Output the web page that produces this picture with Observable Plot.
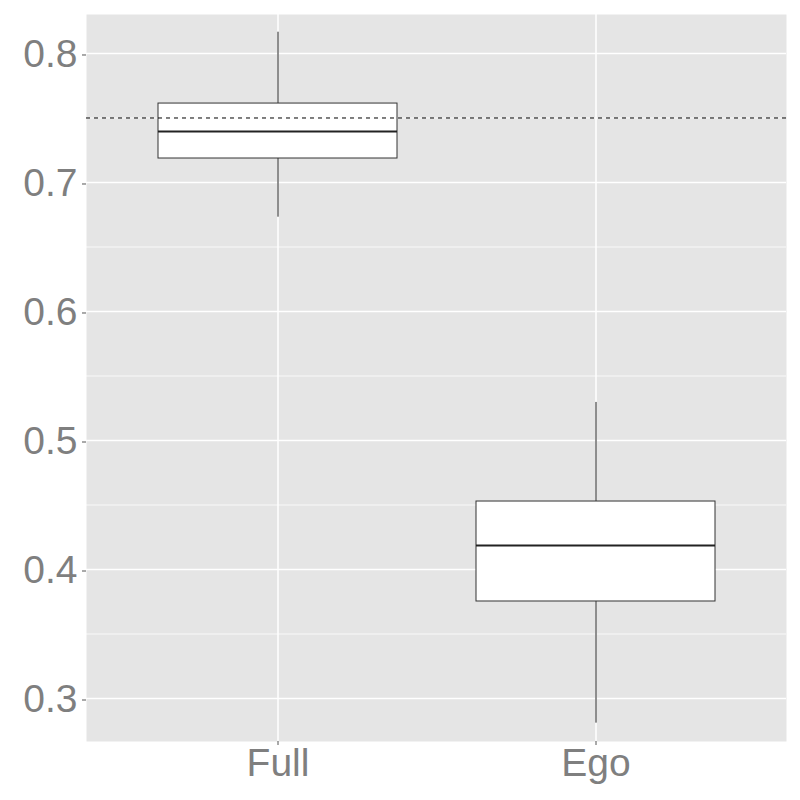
<!DOCTYPE html>
<html>
<head>
<meta charset="utf-8">
<script src="https://cdn.jsdelivr.net/npm/d3@7"></script>
<script src="https://cdn.jsdelivr.net/npm/@observablehq/plot@0.6"></script>
<style>
  html, body { margin: 0; padding: 0; background: #ffffff; }
  svg { display: block; }
</style>
</head>
<body>
<div id="chart"></div>
<script>
const categories = ["Full", "Ego"];
const whiskerLow = [0.6731, 0.2809];
const q1 = [0.7186, 0.3752];
const median = [0.7395, 0.4186];
const q3 = [0.7612, 0.4527];
const whiskerHigh = [0.8165, 0.5295];
const yTicks = [0.3, 0.4, 0.5, 0.6, 0.7, 0.8];
const yMinorTicks = [0.35, 0.45, 0.55, 0.65, 0.75];
const referenceLine = [0.75];
const yDomain = [0.26667, 0.83023];

const boxes = categories.map((c, i) => ({
  cat: c, lo: whiskerLow[i], q1: q1[i], med: median[i], q3: q3[i], hi: whiskerHigh[i]
}));

const font = "'Liberation Sans', Arial, Helvetica, sans-serif";

const chart = Plot.plot({
  width: 800,
  height: 800,
  marginLeft: 86,
  marginRight: 14,
  marginTop: 14,
  marginBottom: 59,
  style: { fontFamily: font, background: "#ffffff" },
  x: { type: "band", domain: categories, paddingInner: 0.25, paddingOuter: 0.225, label: null },
  y: { domain: yDomain, label: null },
  marks: [
    Plot.frame({ fill: "#E5E5E5", stroke: null }),
    Plot.ruleY(yMinorTicks, { stroke: "#ffffff", strokeWidth: 0.8 }),
    Plot.ruleY(yTicks, { stroke: "#ffffff", strokeWidth: 1.5 }),
    Plot.ruleX(categories, { x: d => d, stroke: "#ffffff", strokeWidth: 1.5 }),
    Plot.ruleX(boxes, { x: "cat", y1: "q3", y2: "hi", stroke: "#222222", strokeWidth: 1 }),
    Plot.ruleX(boxes, { x: "cat", y1: "lo", y2: "q1", stroke: "#222222", strokeWidth: 1 }),
    Plot.barY(boxes, { x: "cat", y1: "q1", y2: "q3", fill: "#ffffff", stroke: "#333333", strokeWidth: 1 }),
    Plot.tickY(boxes, { x: "cat", y: "med", stroke: "#222222", strokeWidth: 2 }),
    Plot.ruleY(referenceLine, { stroke: "#000000", strokeWidth: 1, strokeDasharray: "4,4" }),
    Plot.axisY({ ticks: yTicks, tickFormat: d3.format(".1f"), tickSize: 4, tickPadding: 5, dy: 1.5, fontSize: 39, color: "#7F7F7F", stroke: "#555555", label: null }),
    Plot.axisX({ tickSize: 4, tickPadding: 3, fontSize: 39, color: "#7F7F7F", stroke: "#555555", label: null })
  ]
});

document.getElementById("chart").appendChild(chart);
</script>
</body>
</html>
